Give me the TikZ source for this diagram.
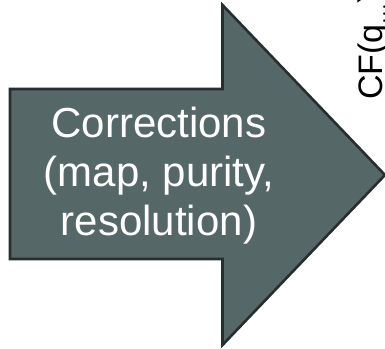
\documentclass[tikz,border=0pt]{standalone}
\usepackage{fontspec}
\setmainfont{Liberation Sans}
\usetikzlibrary{positioning}
\definecolor{arrowfill}{RGB}{86,103,104}
\definecolor{arrowrim}{RGB}{38,46,47}

\begin{document}
\begin{tikzpicture}[x=1pt,y=-1pt,
    bigarrow/.style={fill=arrowfill, draw=arrowrim, line width=2.6pt, line join=miter},
    arrowtext/.style={text=white, align=center, font=\fontsize{42}{49}\selectfont},
    sidetext/.style={text=black, rotate=90, anchor=base west, inner sep=0pt, font=\fontsize{34}{40}\selectfont}]
    \useasboundingbox (0,0) rectangle (385,348);
    \clip (0,0) rectangle (385,348);
    % the arrow
    \draw[bigarrow] (10,89) -- (222.5,89) -- (222.5,5) -- (385,175)
      -- (222.5,345) -- (222.5,259) -- (10,259) -- cycle;
    \node[arrowtext] (corr) at (159,176) {Corrections\\(map, purity,\\resolution)};
    \node[sidetext] (cf) at (382,100) {CF(q$_{\dots}$)};
  \end{tikzpicture}
\end{document}
